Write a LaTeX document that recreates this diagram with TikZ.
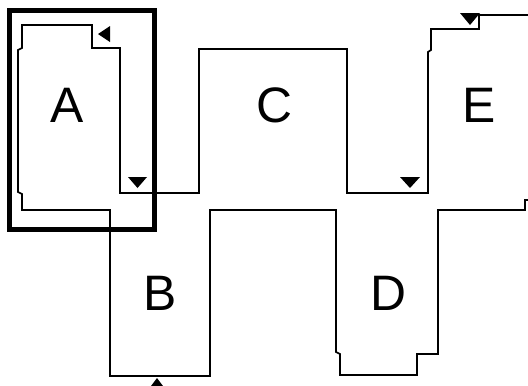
\documentclass[tikz,border=0pt]{standalone}
\usepackage{fontspec}
\setmainfont{Liberation Sans}
\begin{document}
\begin{tikzpicture}[x=1bp,y=-1bp,
  track/.style={line width=1.7bp, line join=miter},
  frame/.style={line width=5bp},
  marker/.style={fill=black},
  lbl/.style={font=\fontsize{50}{60}\selectfont, inner sep=0pt}]
\useasboundingbox (0,0) rectangle (528,385);
\clip (0,0) rectangle (528,385);
\fill[white] (0,0) rectangle (528,385);
% track
\draw[track] (528,15) -- (479,15) -- (479,29) -- (431,29) -- (431,50) -- (428,52) -- (428,193)
  -- (347,193) -- (347,49) -- (199,49) -- (199,193) -- (120,193) -- (120,48) -- (92,48)
  -- (92,25) -- (22,25) -- (22,48) -- (18,50) -- (18,192) -- (22,194) -- (22,210) -- (110,210)
  -- (110,376) -- (210,376) -- (210,210) -- (336,210) -- (336,352) -- (340,354) -- (340,375)
  -- (417,375) -- (417,354) -- (438,354) -- (438,210) -- (525,210) -- (525,200) -- (528,200);
% thick frame
\draw[frame] (9,10.5) rectangle (154.5,229.5);
% markers
\fill[marker] (98,34) -- (110,26) -- (110,42) -- cycle;
\fill[marker] (128,177) -- (147,177) -- (137.5,188) -- cycle;
\fill[marker] (400,177) -- (420,177) -- (410,188) -- cycle;
\fill[marker] (460,13) -- (480,13) -- (470,25) -- cycle;
\fill[marker] (157,378) -- (148,390) -- (166,390) -- cycle;
% labels
\node[lbl] (A) at (67,105) {A};
\node[lbl] (C) at (274,105) {C};
\node[lbl] (E) at (479,105) {E};
\node[lbl] (B) at (160,293) {B};
\node[lbl] (D) at (388,293) {D};
\end{tikzpicture}
\end{document}
